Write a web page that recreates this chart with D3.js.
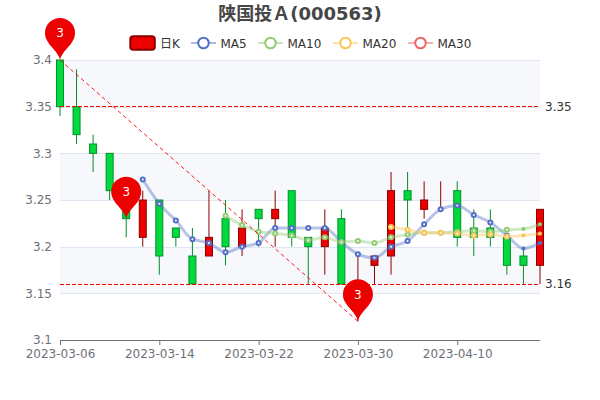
<!DOCTYPE html>
<html><head><meta charset="utf-8">
<script src="https://cdn.jsdelivr.net/npm/d3@7/dist/d3.min.js"></script>
<style>html,body{margin:0;padding:0;background:#fff}svg{display:block}text{font-family:"DejaVu Sans","Noto Sans CJK SC",sans-serif}</style>
</head><body><svg id="c" width="600" height="400"></svg>
<script>
const dates=["2023-03-06","2023-03-07","2023-03-08","2023-03-09","2023-03-10","2023-03-13","2023-03-14","2023-03-15","2023-03-16","2023-03-17","2023-03-20","2023-03-21","2023-03-22","2023-03-23","2023-03-24","2023-03-27","2023-03-28","2023-03-29","2023-03-30","2023-03-31","2023-04-03","2023-04-04","2023-04-06","2023-04-07","2023-04-10","2023-04-11","2023-04-12","2023-04-13","2023-04-14","2023-04-17"];
const open =[3.40,3.35,3.31,3.30,3.26,3.21,3.25,3.22,3.19,3.19,3.23,3.20,3.24,3.23,3.26,3.21,3.20,3.23,3.17,3.18,3.19,3.26,3.24,3.25,3.26,3.22,3.22,3.21,3.19,3.18];
const close=[3.35,3.32,3.30,3.26,3.23,3.25,3.19,3.21,3.16,3.21,3.20,3.22,3.23,3.24,3.21,3.20,3.22,3.16,3.17,3.19,3.26,3.25,3.25,3.25,3.21,3.21,3.21,3.18,3.18,3.24];
const high =[3.40,3.39,3.32,3.30,3.26,3.26,3.25,3.22,3.22,3.26,3.25,3.24,3.24,3.26,3.26,3.21,3.24,3.24,3.19,3.19,3.28,3.28,3.27,3.27,3.27,3.24,3.24,3.21,3.20,3.24];
const low  =[3.34,3.31,3.28,3.25,3.21,3.20,3.17,3.20,3.16,3.19,3.18,3.19,3.20,3.20,3.20,3.16,3.17,3.16,3.12,3.16,3.17,3.21,3.23,3.24,3.20,3.19,3.20,3.17,3.16,3.16];
const ma5 =[null,null,null,null,null,3.272,3.246,3.228,3.208,3.204,3.194,3.200,3.204,3.220,3.220,3.220,3.220,3.205,3.192,3.188,3.200,3.206,3.224,3.240,3.244,3.234,3.226,3.212,3.198,3.204];
const ma10=[null,null,null,null,null,null,null,null,null,null,3.233,3.223,3.216,3.214,3.212,3.207,3.210,3.205,3.206,3.204,3.210,3.213,3.215,3.215,3.216,3.217,3.216,3.218,3.219,3.224];
const ma20=[null,null,null,null,null,null,null,null,null,null,null,null,null,null,null,null,null,null,null,null,3.221,3.218,3.215,3.215,3.214,3.212,3.213,3.211,3.212,3.214];
const ma30=[];
const seriesNames=["MA5","MA10","MA20","MA30"];
const seriesColors=["#5470c6","#91cc75","#fbc55a","#ee6666"];
const yTicks=[3.1,3.15,3.2,3.25,3.3,3.35,3.4];
const xTicks=["2023-03-06","2023-03-14","2023-03-22","2023-03-30","2023-04-10"];
const hLines=[3.35,3.16];
const pins=[["2023-03-06",3.40],["2023-03-10",3.23],["2023-03-30",3.12]];
const diagonal=[["2023-03-06",3.40],["2023-03-30",3.12]];
const pinLabel="3";
const titleText="陕国投Ａ(000563)";

const L=60,R=540,T=60,B=340,RED="#ec0000",RED_B="#8a0000",GRN="#00da3c",GRN_B="#008f28",AX="#6e7079",SPL="#e0e6f1";
const svg=d3.select("#c");
const x=d3.scalePoint().domain(dates).range([L,R]);
const y=d3.scaleLinear().domain([3.1,3.4]).range([B,T]);

// split areas
const bands=d3.pairs(yTicks.slice().reverse());
svg.append("g").selectAll("rect").data(bands).join("rect")
 .attr("x",L).attr("width",R-L).attr("y",d=>y(d[0])).attr("height",d=>y(d[1])-y(d[0]))
 .attr("fill",(d,i)=>i%2?"#ffffff":"#f6f8fc");
// split lines
svg.append("g").selectAll("line").data(yTicks.slice(1)).join("line")
 .attr("x1",L).attr("x2",R).attr("y1",d=>Math.round(y(d))+.5).attr("y2",d=>Math.round(y(d))+.5)
 .attr("stroke",SPL);

// axes
const gy=svg.append("g").attr("transform",`translate(${L},0)`)
 .call(d3.axisLeft(y).tickValues(yTicks).tickSize(0).tickPadding(8).tickFormat(d=>String(d)));
gy.select(".domain").remove();
gy.selectAll("text").attr("fill",AX).style("font-size","12px");
const gx=svg.append("g").attr("transform",`translate(0,${B})`)
 .call(d3.axisBottom(x).tickValues(xTicks).tickSize(5).tickPadding(4));
gx.select(".domain").attr("stroke",AX).attr("d",`M${L},0.5H${R}`);
gx.selectAll("line").attr("stroke",AX);
gx.selectAll("text").attr("fill",AX).style("font-size","12px");

// candles
const idx=d3.range(dates.length);
const isUp=i=>close[i]>=open[i];
const cg=svg.append("g");
const bw=7;
cg.selectAll(".w").data(idx).join("line").attr("class","w")
 .attr("x1",i=>x(dates[i])).attr("x2",i=>x(dates[i])).attr("y1",i=>y(high[i])).attr("y2",i=>y(low[i]))
 .attr("stroke",i=>isUp(i)?RED_B:GRN_B).attr("stroke-width",1);
cg.selectAll(".b").data(idx).join("rect").attr("class","b")
 .attr("x",i=>x(dates[i])-bw/2).attr("width",bw)
 .attr("y",i=>y(Math.max(open[i],close[i])))
 .attr("height",i=>Math.abs(y(open[i])-y(close[i])))
 .attr("fill",i=>isUp(i)?RED:GRN).attr("stroke",i=>isUp(i)?RED_B:GRN_B).attr("stroke-width",1);

// moving averages
const allMA=[ma5,ma10,ma20,ma30];
const line=d3.line().defined(d=>d!=null).x((d,i)=>x(dates[i])).y(d=>y(d)).curve(d3.curveMonotoneX);
allMA.forEach((arr,k)=>{
 const g=svg.append("g");
 g.append("path").attr("d",line(arr)).attr("fill","none").attr("stroke",seriesColors[k]).attr("stroke-width",3).attr("stroke-opacity",.42);
 const pts=arr.map((v,i)=>({v,i})).filter(p=>p.v!=null);
 g.selectAll("circle").data(pts).join("circle")
  .attr("cx",p=>x(dates[p.i])).attr("cy",p=>y(p.v))
  .attr("r",p=>p.i>=dates.length-2?1.6:2)
  .attr("fill",p=>p.i>=dates.length-2?seriesColors[k]:"#fff")
  .attr("stroke",seriesColors[k]).attr("stroke-width",p=>p.i>=dates.length-2?1:2);
});

// mark lines
svg.append("g").selectAll("line").data(hLines).join("line")
 .attr("x1",L).attr("x2",R).attr("y1",d=>Math.floor(y(d)+.01)+.5).attr("y2",d=>Math.floor(y(d)+.01)+.5)
 .attr("stroke","#f00").attr("stroke-dasharray","4,2").attr("stroke-width",1);
svg.append("g").selectAll("text").data(hLines).join("text")
 .attr("x",R+5).attr("y",d=>y(d)).attr("dy",".35em").attr("fill","#333").style("font-size","12px").text(d=>d);
svg.append("line")
 .attr("x1",x(diagonal[0][0])).attr("y1",y(diagonal[0][1])).attr("x2",x(diagonal[1][0])).attr("y2",y(diagonal[1][1]))
 .attr("stroke","#f00").attr("stroke-dasharray","4,3").attr("stroke-width",.9);

// pins
function pinPath(px,py){
 const r=15,cy=py-27,ang=0.62;
 const p=d3.path();
 p.moveTo(px,py);
 const sx=r*Math.cos(ang),sy=r*Math.sin(ang);
 p.bezierCurveTo(px-1,py-7,px-sx+1,cy+sy+3,px-sx,cy+sy);
 p.arc(px,cy,r,Math.PI-ang,ang,false);
 p.bezierCurveTo(px+sx-1,cy+sy+3,px+1,py-7,px,py);
 p.closePath();
 return p.toString();
}
const pg=svg.append("g").selectAll("g").data(pins).join("g");
pg.append("path").attr("d",d=>pinPath(x(d[0]),y(d[1]))).attr("fill",RED);
pg.append("text").attr("x",d=>x(d[0])).attr("y",d=>y(d[1])-27).attr("dy",".36em")
 .attr("text-anchor","middle").attr("fill","#fff").style("font-size","12px").text(pinLabel);

// title
svg.append("text").attr("x",300).attr("y",20).attr("text-anchor","middle")
 .attr("fill","#464646").style("font-size","18px").style("font-weight","bold").text(titleText);

// legend
const lg=svg.append("g");
lg.append("rect").attr("x",130.3).attr("y",36.2).attr("width",24.5).attr("height",13.6).attr("rx",3)
 .attr("fill",RED).attr("stroke",RED_B).attr("stroke-width",2);
lg.append("text").attr("x",160).attr("y",47.5).attr("fill","#333").style("font-size","12px").text("日K");
const lx=[191,258,333,408];
seriesNames.forEach((n,k)=>{
 lg.append("line").attr("x1",lx[k]).attr("x2",lx[k]+25).attr("y1",43).attr("y2",43)
  .attr("stroke",seriesColors[k]).attr("stroke-width",2).attr("stroke-opacity",.5);
 lg.append("circle").attr("cx",lx[k]+12.5).attr("cy",43).attr("r",5.3)
  .attr("fill","#fff").attr("stroke",seriesColors[k]).attr("stroke-width",2);
 lg.append("text").attr("x",lx[k]+29.5).attr("y",47.5).attr("fill","#333").style("font-size","12px").text(n);
});
</script></body></html>
